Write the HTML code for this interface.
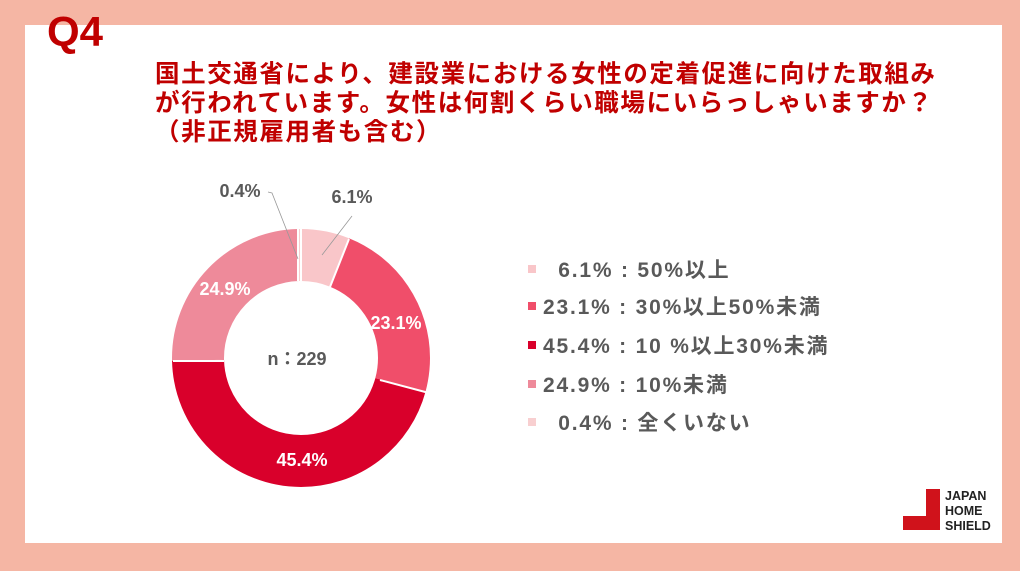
<!DOCTYPE html>
<html><head><meta charset="utf-8"><style>
body{margin:0;width:1020px;height:571px;background:#f5b6a4;position:relative;overflow:hidden;font-family:"Liberation Sans","Noto Sans CJK JP",sans-serif}
.card{position:absolute;left:25px;top:25px;width:977px;height:518px;background:#fff}
.q{position:absolute;left:47px;top:8px;font-size:42px;font-weight:bold;color:#c00000}
.t{position:absolute;left:155px;top:60px;font-size:24.5px;font-weight:bold;color:#c00000;line-height:29px;white-space:nowrap;letter-spacing:1.6px}
.lg{position:absolute;left:528px;font-size:21px;font-weight:bold;color:#595959;white-space:nowrap;letter-spacing:1.8px}
.lg i{display:inline-block;width:8px;height:8px;margin-right:7px;vertical-align:middle;position:relative;top:-2px}
</style></head><body>
<div class="card"></div>
<div class="q">Q4</div>
<div class="t">国土交通省により、建設業における女性の定着促進に向けた取組み<br>が行われています。女性は何割くらい職場にいらっしゃいますか？<br>（非正規雇用者も含む）</div>
<svg width="1020" height="571" style="position:absolute;left:0;top:0" font-family="Liberation Sans, Noto Sans CJK JP, sans-serif" font-weight="bold">
<g transform="rotate(-90 301 358)" fill="none" stroke-width="52">
<circle cx="301" cy="358" r="103" stroke="#f9c6c9" stroke-dasharray="39.48 647.17" stroke-dashoffset="0"/>
<circle cx="301" cy="358" r="103" stroke="#f04e6a" stroke-dasharray="149.5 647.17" stroke-dashoffset="-39.48"/>
<circle cx="301" cy="358" r="103" stroke="#d9002b" stroke-dasharray="293.82 647.17" stroke-dashoffset="-188.98"/>
<circle cx="301" cy="358" r="103" stroke="#ee8a9a" stroke-dasharray="161.15 647.17" stroke-dashoffset="-482.8"/>
<circle cx="301" cy="358" r="103" stroke="#f8cfd0" stroke-dasharray="2.59 647.17" stroke-dashoffset="-643.95"/>
</g>
<g stroke="#fff" stroke-width="2">
<line x1="301" y1="229" x2="301" y2="281"/>
<line x1="349" y1="239" x2="330" y2="287"/>
<line x1="429" y1="393" x2="380" y2="380"/>
<line x1="173" y1="361" x2="224" y2="361"/>
<line x1="298" y1="229" x2="298" y2="281"/>
</g>
<polyline points="268,192 272,193 298,259" fill="none" stroke="#999" stroke-width="0.8"/>
<line x1="352" y1="216" x2="322" y2="255" stroke="#999" stroke-width="0.8"/>
<g font-size="18" fill="#595959" text-anchor="middle">
<text x="240" y="197">0.4%</text>
<text x="352" y="203">6.1%</text>
<text x="297" y="365">n：229</text>
</g>
<g font-size="18" fill="#fff" text-anchor="middle">
<text x="225" y="295">24.9%</text>
<text x="396" y="329">23.1%</text>
<text x="302" y="466">45.4%</text>
</g>
<path d="M926 489h14v41h-37v-14h23z" fill="#d0121b"/>
<g font-size="12.5" fill="#222" font-weight="bold"><text x="945" y="500">JAPAN</text><text x="945" y="515">HOME</text><text x="945" y="530">SHIELD</text></g>
</svg>
<div class="lg" style="top:254px"><i style="background:#f9c6c9"></i>&nbsp;&nbsp;6.1% : 50%以上</div>
<div class="lg" style="top:291px"><i style="background:#f04e6a"></i>23.1% : 30%以上50%未満</div>
<div class="lg" style="top:330px"><i style="background:#d9002b"></i>45.4% : 10 %以上30%未満</div>
<div class="lg" style="top:369px"><i style="background:#ee8a9a"></i>24.9% : 10%未満</div>
<div class="lg" style="top:407px"><i style="background:#f8cfd0"></i>&nbsp;&nbsp;0.4% : 全くいない</div>
</body></html>
